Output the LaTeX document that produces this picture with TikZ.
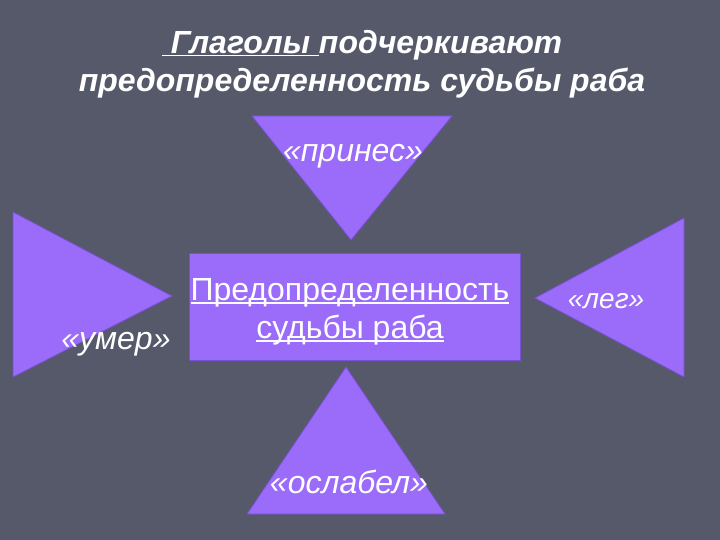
\documentclass[tikz,border=0pt]{standalone}
\usepackage{fontspec}
\setmainfont{Liberation Sans}
\definecolor{bg}{RGB}{86,89,106}
\definecolor{vio}{RGB}{155,107,250}
\definecolor{viodark}{RGB}{120,80,210}
\newcommand\ulfix[1]{\setbox0\hbox{#1}\rlap{\rule[-3pt]{\wd0}{1.3pt}}\box0\relax}
\tikzset{
  shapefill/.style={fill=vio, draw=viodark, line width=0.8pt, line join=miter},
  label32/.style={text=white, font=\fontsize{32}{38}\selectfont\itshape, inner sep=0pt},
  label28/.style={text=white, font=\fontsize{28}{34}\selectfont\itshape, inner sep=0pt},
  titletext/.style={text=white, font=\fontsize{32}{38}\selectfont\bfseries\itshape, align=center, inner sep=0pt},
  centertext/.style={text=white, font=\fontsize{32}{38}\selectfont, align=center, inner sep=0pt}
}
\begin{document}
\begin{tikzpicture}[x=1pt,y=-1pt]
\fill[bg] (0,0) rectangle (720,540);
\useasboundingbox (0,0) rectangle (720,540);
% title
\node[titletext] (title) at (362,64) {\ulfix{\ Глаголы\ }подчеркивают\\предопределенность судьбы раба};
% top triangle (pointing down)
\draw[shapefill] (252,116) -- (452,116) -- (351,240) -- cycle;
\node[label32] (prines) at (353,156) {«принес»};
% left triangle (pointing right)
\draw[shapefill] (13,212) -- (172,296) -- (13,377) -- cycle;
\node[label32] (umer) at (116,344) {«умер»};
% right triangle (pointing left)
\draw[shapefill] (684,218) -- (535,298) -- (684,377) -- cycle;
\node[label28] (leg) at (606,301) {«лег»};
% bottom triangle (pointing up)
\draw[shapefill] (346,367) -- (445,514) -- (247,514) -- cycle;
\node[label32] (oslabel) at (349,482) {«ослабел»};
% center rectangle
\draw[shapefill] (189,253) rectangle (520,360);
\node[centertext] (center) at (350,312) {\ulfix{Предопределенность}\\\ulfix{судьбы раба}};
\end{tikzpicture}
\end{document}
